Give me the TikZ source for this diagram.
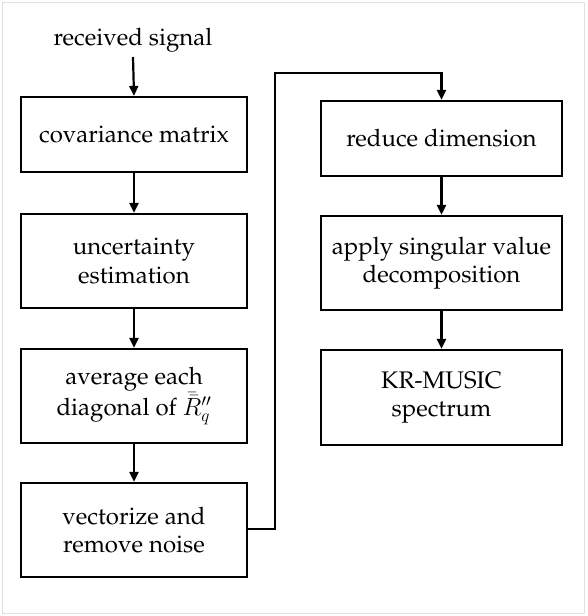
\documentclass[tikz,border=0pt]{standalone}
\usepackage[T1]{fontenc}
\renewcommand{\rmdefault}{ppl}
\usetikzlibrary{arrows.meta}
\begin{document}
\begin{tikzpicture}[x=1pt,y=-1pt,
  stepbox/.style={draw,line width=2.2pt,align=center,inner sep=0pt,
    font=\fontsize{24}{28.5}\selectfont},
  conn/.style={line width=2.2pt,-{Triangle[length=10pt,width=9pt]}}]
\useasboundingbox (0,0) rectangle (587,616);
\draw[black!12,line width=1pt] (2.5,2.5) rectangle (584,613);
\node[font=\fontsize{24}{28.5}\selectfont] (rs) at (133,40) {received signal};
\node[stepbox,minimum width=226pt,minimum height=75pt] (cov) at (134,134.5) {covariance matrix};
\node[stepbox,minimum width=226pt,minimum height=94pt] (unc) at (134,261) {uncertainty\\estimation};
\node[stepbox,minimum width=226pt,minimum height=94pt] (avg) at (134,396) {average each\\diagonal of $\bar{\bar{R}}{}_q^{\prime\prime}$};
\node[stepbox,minimum width=226pt,minimum height=94pt] (vec) at (134,530) {vectorize and\\remove noise};
\node[stepbox,minimum width=241pt,minimum height=75pt] (red) at (441.5,138.5) {reduce dimension};
\node[stepbox,minimum width=241pt,minimum height=94pt] (svd) at (441.5,263) {apply singular value\\decomposition};
\node[stepbox,minimum width=241pt,minimum height=95pt] (kr) at (441.5,397.5) {KR-MUSIC\\spectrum};
\coordinate (c1) at (275,529);
\coordinate (c2) at (275,73);
\coordinate (c3) at (441.5,73);
\draw[conn] (rs.south |- 0,57) -- (cov.north);
\draw[conn] (cov) -- (unc);
\draw[conn] (unc) -- (avg);
\draw[conn] (avg) -- (vec);
\draw[conn] (vec.east |- c1) -- (c1) -- (c2) -- (c3) -- (red.north);
\draw[conn] (red) -- (svd);
\draw[conn] (svd) -- (kr);
\end{tikzpicture}
\end{document}
